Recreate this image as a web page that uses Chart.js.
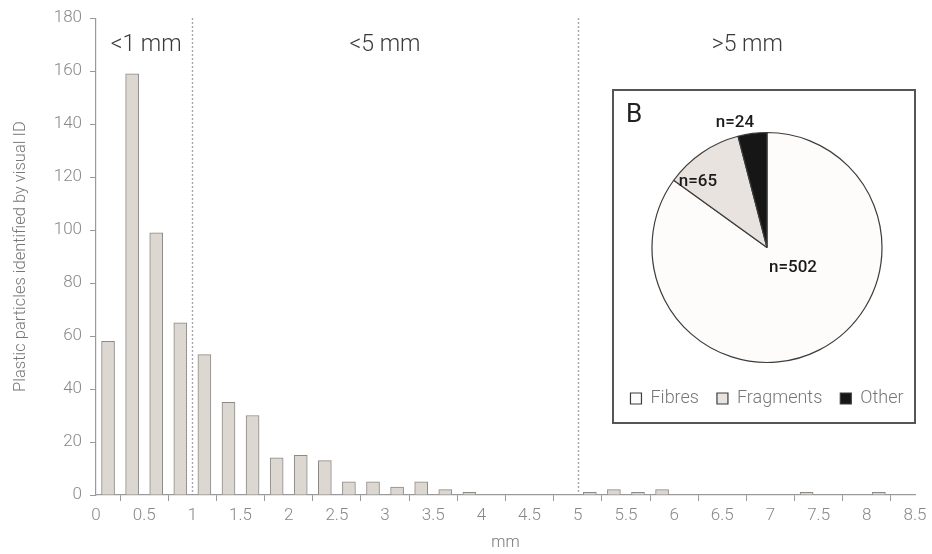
<!DOCTYPE html>
<html>
<head>
<meta charset="utf-8">
<script src="https://cdn.jsdelivr.net/npm/chart.js@4.4.1/dist/chart.umd.min.js"></script>
<style>
  html, body { margin: 0; padding: 0; background: #ffffff; }
  #wrap { position: relative; width: 932px; height: 554px; }
  #main { position: absolute; left: 0; top: 0; }
  #inset { position: absolute; left: 612px; top: 89px; width: 300px; height: 331px; border: 2px solid #555; background: #fff; overflow: hidden; }
  #inset canvas { position: absolute; left: -17px; top: 0; }
</style>
</head>
<body>
<div id="wrap">
  <canvas id="main" width="932" height="554"></canvas>
  <div id="inset"><canvas id="pie" width="340" height="331"></canvas></div>
</div>
<script>
// ---- Data ----
const binCenters = [0.125, 0.375, 0.625, 0.875, 1.125, 1.375, 1.625, 1.875, 2.125, 2.375,
                    2.625, 2.875, 3.125, 3.375, 3.625, 3.875, 4.125, 4.375, 4.625, 4.875,
                    5.125, 5.375, 5.625, 5.875, 6.125, 6.375, 6.625, 6.875, 7.125, 7.375,
                    7.625, 7.875, 8.125, 8.375];
const particleCounts = [58, 159, 99, 65, 53, 35, 30, 14, 15, 13,
                        5, 5, 3, 5, 2, 1, 0, 0, 0, 0,
                        1, 2, 1, 2, 0, 0, 0, 0, 0, 1,
                        0, 0, 1, 0];
const sizeBoundaries = [1, 5];
const sizeClassLabels = ['<1 mm', '<5 mm', '>5 mm'];
const sizeClassLabelX = [0.52, 3.0, 6.76];
const yAxisTitle = 'Plastic particles identified by visual ID';
const xAxisTitle = 'mm';

const typeLabels = ['Fibres', 'Fragments', 'Other'];
const typeCounts = [502, 65, 24];
const panelLetter = 'B';

const FONT = "Roboto, 'Liberation Sans', Arial, sans-serif";

// ---- Plugins ----
const regionPlugin = {
  id: 'regions',
  afterDatasetsDraw(chart) {
    const {ctx, chartArea, scales} = chart;
    const xs = scales.x;
    ctx.save();
    ctx.strokeStyle = '#8a8a8a';
    ctx.lineWidth = 1.4;
    ctx.setLineDash([1.5, 2.5]);
    sizeBoundaries.forEach(v => {
      const px = Math.round(xs.getPixelForValue(v)) + 0.5;
      ctx.beginPath();
      ctx.moveTo(px, chartArea.top);
      ctx.lineTo(px, chartArea.bottom);
      ctx.stroke();
    });
    ctx.setLineDash([]);
    ctx.fillStyle = '#3a3a3a';
    ctx.font = "300 23px " + FONT;
    ctx.textAlign = 'center';
    ctx.textBaseline = 'middle';
    sizeClassLabels.forEach((t, i) => {
      ctx.fillText(t, xs.getPixelForValue(sizeClassLabelX[i]), chartArea.top + 27);
    });
    ctx.restore();
  }
};

const mainChart = new Chart(document.getElementById('main'), {
  type: 'bar',
  data: {
    datasets: [{
      data: binCenters.map((x, i) => ({x: x, y: particleCounts[i]})),
      backgroundColor: '#ddd7d2',
      borderColor: '#8e8984',
      borderWidth: 1,
      barThickness: 13,
      borderSkipped: 'bottom'
    }]
  },
  options: {
    responsive: false,
    animation: false,
    layout: { padding: { top: 18, right: 17, left: 0, bottom: 0 } },
    plugins: { legend: { display: false }, tooltip: { enabled: false } },
    scales: {
      x: {
        type: 'linear',
        min: 0, max: 8.5,
        offset: false,
        afterFit(scale) { scale.height = 59; },
        ticks: {
          stepSize: 0.5, color: '#888', padding: 5, maxRotation: 0, autoSkip: false,
          font: { family: FONT, size: 17, weight: '300' },
          callback: v => String(Math.round(v * 10) / 10)
        },
        grid: { display: true, drawOnChartArea: false, drawTicks: true, tickLength: 6, color: '#9a9a9a', lineWidth: 1 },
        border: { display: true, color: '#9a9a9a', width: 1.2 },
        title: { display: true, text: xAxisTitle, color: '#777', font: { family: FONT, size: 16, weight: '300' }, padding: { top: 0, bottom: 1 } }
      },
      y: {
        min: 0, max: 180,
        afterFit(scale) { scale.width = 96; },
        ticks: { stepSize: 20, color: '#888', padding: 8, font: { family: FONT, size: 17, weight: '300' } },
        grid: { display: true, drawOnChartArea: false, drawTicks: true, tickLength: 6, color: '#9a9a9a', lineWidth: 1 },
        border: { display: true, color: '#9a9a9a', width: 1.2 },
        title: { display: true, text: yAxisTitle, color: '#777', font: { family: FONT, size: 16.5, weight: '300' }, padding: { top: 11, bottom: 0 } }
      }
    }
  },
  plugins: [regionPlugin]
});

// ---- Inset pie ----
const pieLabelOffsets = [[26, 20], [-69, -66], [-32, -125]];
const pieLabelPlugin = {
  id: 'pieLabels',
  afterDatasetsDraw(chart) {
    const {ctx} = chart;
    const meta = chart.getDatasetMeta(0);
    const arc0 = meta.data[0];
    const cx = arc0.x, cy = arc0.y;
    ctx.save();
    ctx.fillStyle = '#1a1a1a';
    ctx.font = "500 17px " + FONT;
    ctx.textAlign = 'center';
    ctx.textBaseline = 'middle';
    typeCounts.forEach((n, i) => {
      const off = pieLabelOffsets[i];
      ctx.fillText('n=' + n, cx + off[0], cy + off[1]);
    });
    // panel letter (box content starts 17px right of the canvas edge)
    ctx.font = "400 26px " + FONT;
    ctx.textAlign = 'left';
    ctx.fillStyle = '#222';
    ctx.fillText(panelLetter, 17 + 12, 24);
    ctx.restore();
  }
};

new Chart(document.getElementById('pie'), {
  type: 'pie',
  data: {
    labels: typeLabels,
    datasets: [{
      data: typeCounts,
      backgroundColor: ['#fdfcfb', '#e9e3df', '#161616'],
      borderColor: '#3c3c3c',
      borderWidth: 1.2,
      radius: 115
    }]
  },
  options: {
    responsive: false,
    animation: false,
    layout: { padding: { top: 32.5, bottom: 4.5, left: 0, right: 0 } },
    plugins: {
      tooltip: { enabled: false },
      legend: {
        position: 'bottom',
        labels: {
          boxWidth: 11, boxHeight: 11, padding: 18,
          color: '#777', font: { family: FONT, size: 18, weight: '300' }
        }
      }
    }
  },
  plugins: [pieLabelPlugin]
});
</script>
</body>
</html>
